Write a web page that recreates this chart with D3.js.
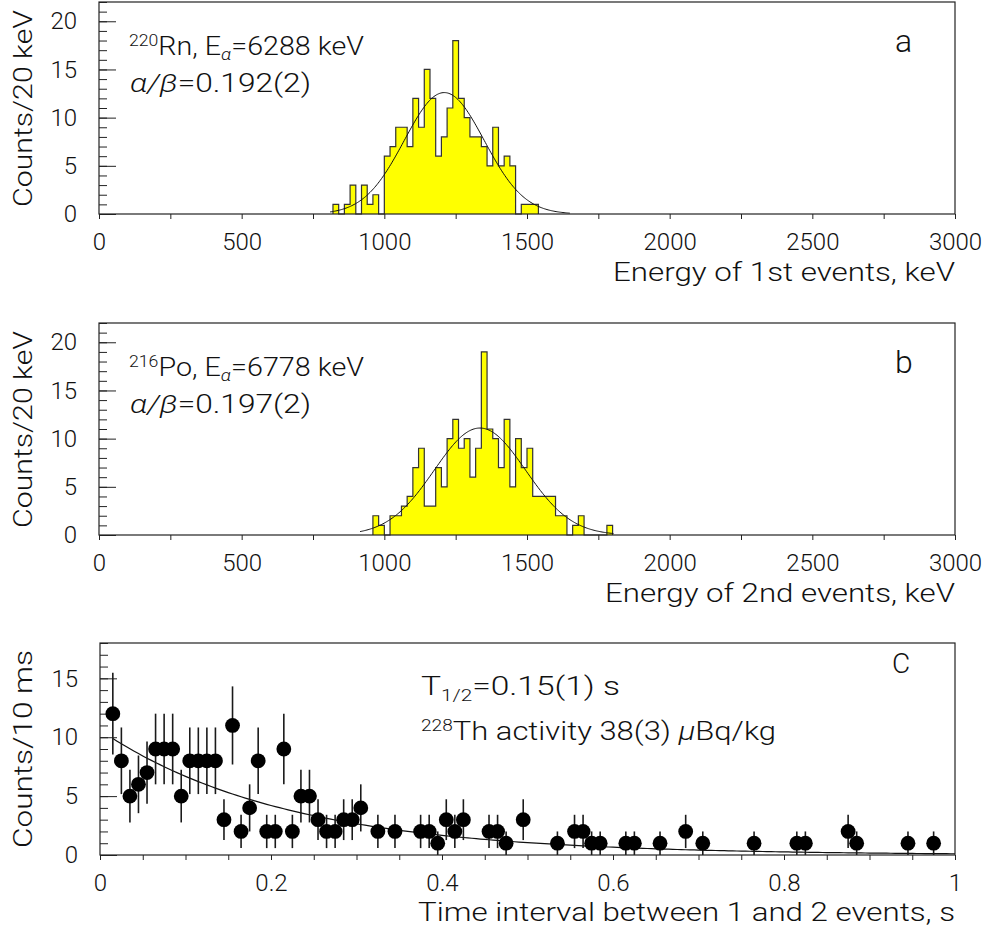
<!DOCTYPE html>
<html><head><meta charset="utf-8">
<script src="https://cdn.jsdelivr.net/npm/d3@7"></script>
<style>
body{margin:0;background:#fff}
svg text{font-family:Roboto,"Liberation Sans",sans-serif;font-weight:300;fill:#111}
</style>
</head><body><svg id="c" width="983" height="930"></svg>
<script>
// ---------------- data ----------------
const binWidth = 20; // keV
const rnBinStart = 820;
const rnCounts = [1,0,1,3,0,3,1,2,0,6,7,9,9,7,12,9,15,12,6,8,11,18,12,10,8,8,7,5,9,5,6,5,0,1,1,1];
const poBinStart = 960;
const poCounts = [2,1,0,2,2,3,4,7,9,3,3,7,5,10,12,9,10,6,9,19,11,10,7,12,5,10,7,9,4,4,4,4,2,2,0,1,2,0,0,0,0,1];
const rnFit = [12.6, 1210, 140];   // amplitude, mean, sigma
const rnFitRange = [810, 1650];
const poFit = [11.1, 1335, 160];
const poFitRange = [915, 1805];
const energyTicks = [0,500,1000,1500,2000,2500,3000];
const energyTickLabels = ["0","500","1000","1500","2000","2500","3000"];
const countTicks = [0,5,10,15,20];
const countTickLabels = ["0","5","10","15","20"];

const timeBinStart = 0.01, timeBinWidth = 0.01;
const timeCounts = [12,8,5,6,7,9,9,9,5,8,8,8,8,3,11,2,4,8,2,2,9,2,5,5,3,2,2,3,3,4,
  0,2,0,2,0,0,2,2,1,3,2,3,0,0,2,2,1,0,3,0,0,0,1,0,2,2,1,1,0,0,1,1,0,0,1,0,0,2,0,1,
  0,0,0,0,0,1,0,0,0,0,1,1,0,0,0,0,2,1,0,0,0,0,0,1,0,0,1,0,0];
const decayFit = [10.6, 0.15]; // amplitude, half-life (s)
const timeTicks = [0,0.2,0.4,0.6,0.8,1];
const timeTickLabels = ["0","0.2","0.4","0.6","0.8","1"];
const timeCountTicks = [0,5,10,15];
const timeCountTickLabels = ["0","5","10","15"];

// ---------------- drawing ----------------
const svg = d3.select("#c");
const INK = "#222";

function clean(sel){ sel.select(".domain").remove(); sel.attr("color",INK); sel.selectAll("line").attr("stroke-width",1); }

function bottomTicks(g, x, y0, vals, size){
  g.append("g").attr("transform",`translate(0,${y0})`)
   .call(d3.axisBottom(x).tickValues(vals).tickSize(size).tickFormat("")).call(clean);
}
function leftTicks(g, y, x0, vals, size){
  g.append("g").attr("transform",`translate(${x0},0)`)
   .call(d3.axisLeft(y).tickValues(vals).tickSize(size).tickFormat("")).call(clean);
}
function addLabelsX(g, x, y0, vals, labels){
  const a = g.append("g").attr("transform",`translate(0,${y0})`)
   .call(d3.axisBottom(x).tickValues(vals).tickSize(0).tickPadding(19).tickFormat((d,i)=>labels[i])).call(clean);
  a.selectAll("text").attr("font-size",24).attr("fill","#111");
}
function addLabelsY(g, y, x0, vals, labels){
  const a = g.append("g").attr("transform",`translate(${x0},0)`)
   .call(d3.axisLeft(y).tickValues(vals).tickSize(0).tickPadding(22).tickFormat((d,i)=>labels[i])).call(clean);
  a.selectAll("text").attr("font-size",24).attr("fill","#111");
}
function frame(g, l, r, t, b){
  g.append("rect").attr("x",l).attr("y",t).attr("width",r-l).attr("height",b-t)
   .attr("fill","none").attr("stroke",INK).attr("stroke-width",1.2);
}
function xTitle(g, text, x0, x1, base){
  g.append("text").attr("x",x0).attr("y",base).attr("font-size",25)
   .attr("textLength",x1-x0).attr("lengthAdjust","spacingAndGlyphs").text(text);
}
function yTitle(g, text, yStart, yEnd, base){
  g.append("text").attr("transform",`translate(${base},${yStart}) rotate(-90)`)
   .attr("font-size",25).attr("textLength",yStart-yEnd).attr("lengthAdjust","spacingAndGlyphs").text(text);
}

const L = 99, R = 955;

function energyPanel(top, bottom, start, counts, fit, fitRange, title, titleX0, mass, elem, eAlpha, ratio, letter){
  const g = svg.append("g");
  const x = d3.scaleLinear().domain([0,3000]).range([L,R]);
  const y = d3.scaleLinear().domain([0,22]).range([bottom, top]);

  // ticks: x below the axis, y inside
  bottomTicks(g, x, bottom, d3.range(0,3001,250), 5);
  leftTicks(g, y, L, d3.range(0,23,1), -8);
  leftTicks(g, y, L, countTicks, -17);

  // histogram
  const pts = [[start,0]];
  counts.forEach((c,i)=>{ pts.push([start+i*binWidth,c]); pts.push([start+(i+1)*binWidth,c]); });
  pts.push([start+counts.length*binWidth,0]);
  g.append("path").datum(pts)
   .attr("d", d3.area().x(d=>x(d[0])).y0(bottom).y1(d=>y(d[1])))
   .attr("fill","#ffff00");
  g.append("path").datum(pts)
   .attr("d", d3.line().x(d=>x(d[0])).y(d=>y(d[1])))
   .attr("fill","none").attr("stroke","#333").attr("stroke-width",1.2);

  // gaussian fit
  const [A,m,s] = fit;
  const curve = d3.range(fitRange[0], fitRange[1]+0.1, 4).map(E=>[E, A*Math.exp(-(E-m)*(E-m)/(2*s*s))]);
  g.append("path").datum(curve)
   .attr("d", d3.line().x(d=>x(d[0])).y(d=>y(d[1])))
   .attr("fill","none").attr("stroke","#111").attr("stroke-width",1);

  frame(g, L, R, top, bottom);
  addLabelsX(g, x, bottom, energyTicks, energyTickLabels);
  addLabelsY(g, y, L, countTicks, countTickLabels);
  xTitle(g, title, titleX0, 955, bottom+67);
  yTitle(g, "Counts/20 keV", bottom-7, top+8, 32);

  // annotations
  const t1 = g.append("text").attr("x",129).attr("y",top+53).attr("font-size",26)
    .attr("textLength",235).attr("lengthAdjust","spacingAndGlyphs");
  t1.append("tspan").attr("font-size",16).attr("dy",-9).text(mass);
  t1.append("tspan").attr("dy",9).text(elem+", E");
  t1.append("tspan").attr("font-size",17).attr("dy",5).attr("font-style","italic").text("α");
  t1.append("tspan").attr("dy",-5).text("="+eAlpha+" keV");
  const t2 = g.append("text").attr("x",130).attr("y",top+90).attr("font-size",26)
    .attr("textLength",181).attr("lengthAdjust","spacingAndGlyphs");
  t2.append("tspan").attr("font-style","italic").text("α/β");
  t2.append("tspan").text("="+ratio);
  g.append("text").attr("x",895).attr("y",top+50).attr("font-size",32).text(letter);
}

energyPanel(2, 214, rnBinStart, rnCounts, rnFit, rnFitRange, "Energy of 1st events, keV", 613, "220", "Rn", "6288", "0.192(2)", "a");
energyPanel(323, 535, poBinStart, poCounts, poFit, poFitRange, "Energy of 2nd events, keV", 605, "216", "Po", "6778", "0.197(2)", "b");

// ---- panel c ----
(function(){
  const top = 643, bottom = 855, l = 100, r = 955;
  const g = svg.append("g");
  const x = d3.scaleLinear().domain([0,1]).range([l,r]);
  const y = d3.scaleLinear().domain([0,18]).range([bottom, top]);

  bottomTicks(g, x, bottom, d3.range(0,1.0001,0.05), 5);
  leftTicks(g, y, l, d3.range(0,19,1), -8);
  leftTicks(g, y, l, timeCountTicks, -17);

  const pts = timeCounts.map((c,i)=>({t: timeBinStart + (i+0.5)*timeBinWidth, c})).filter(d=>d.c>0);

  // fit
  const [A,T] = decayFit;
  const curve = d3.range(0.015, 1.0001, 0.005).map(t=>[t, A*Math.exp(-Math.LN2*t/T)]);
  g.append("path").datum(curve)
   .attr("d", d3.line().x(d=>x(d[0])).y(d=>y(d[1])))
   .attr("fill","none").attr("stroke","#111").attr("stroke-width",1.2);

  g.selectAll("line.err").data(pts).join("line").attr("class","err")
   .attr("x1",d=>x(d.t)).attr("x2",d=>x(d.t))
   .attr("y1",d=>y(d.c+Math.sqrt(d.c))).attr("y2",d=>y(Math.max(0,d.c-Math.sqrt(d.c))))
   .attr("stroke","#1a1a1a").attr("stroke-width",1.6);
  g.selectAll("circle.pt").data(pts).join("circle").attr("class","pt")
   .attr("cx",d=>x(d.t)).attr("cy",d=>y(d.c)).attr("r",7.4).attr("fill","#000");

  frame(g, l, r, top, bottom);
  addLabelsX(g, x, bottom, timeTicks, timeTickLabels);
  addLabelsY(g, y, l, timeCountTicks, timeCountTickLabels);
  xTitle(g, "Time interval between 1 and 2 events, s", 418, 955, 921);
  yTitle(g, "Counts/10 ms", 848, 650, 32);

  const a = g.append("text").attr("x",421).attr("y",695).attr("font-size",26)
    .attr("textLength",199).attr("lengthAdjust","spacingAndGlyphs");
  a.append("tspan").text("T");
  a.append("tspan").attr("font-size",16).attr("dy",6).text("1/2");
  a.append("tspan").attr("dy",-6).text("=0.15(1) s");
  const b = g.append("text").attr("x",421).attr("y",740).attr("font-size",26)
    .attr("textLength",355).attr("lengthAdjust","spacingAndGlyphs");
  b.append("tspan").attr("font-size",16).attr("dy",-9).text("228");
  b.append("tspan").attr("dy",9).text("Th activity 38(3) ");
  b.append("tspan").attr("font-style","italic").text("μ");
  b.append("tspan").text("Bq/kg");
  g.append("text").attr("x",892).attr("y",673).attr("font-size",28).text("C");
})();
</script>
</body></html>
